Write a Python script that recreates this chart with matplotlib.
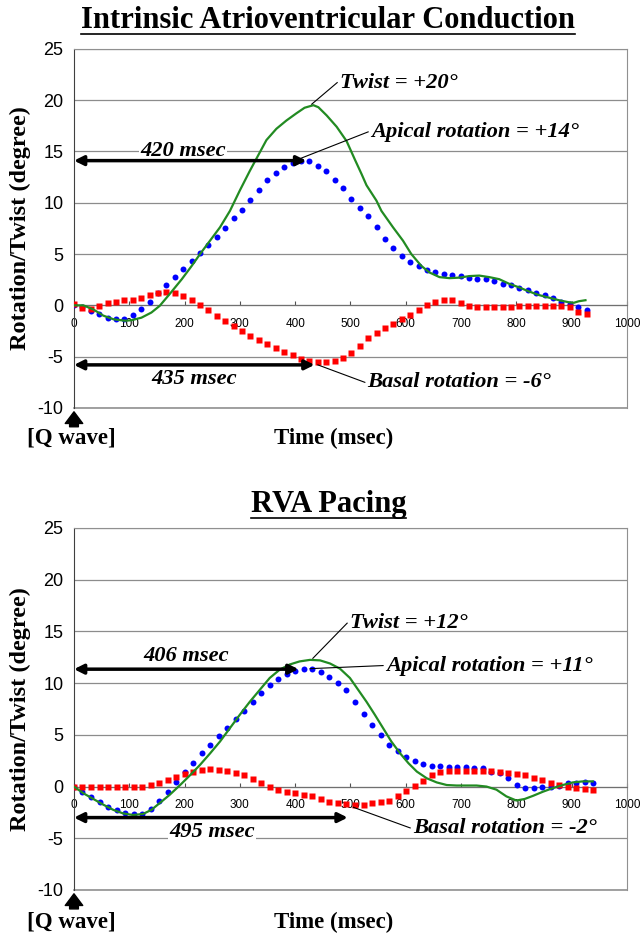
import matplotlib
matplotlib.use("Agg")
import matplotlib.pyplot as plt
import numpy as np
from matplotlib.lines import Line2D

plt.rcParams["axes.unicode_minus"] = False
SERIF = "Liberation Serif"
SANS = "Liberation Sans"

# ---- Intrinsic AV conduction ----
t_dots_av = np.arange(62) * 15.2
apical_av = [0, -0.2, -0.55, -0.8, -1.2, -1.3, -1.3, -0.9, -0.4, 0.3,
             1.2, 2.0, 2.8, 3.5, 4.3, 5.1, 5.9, 6.7, 7.5, 8.5,
             9.3, 10.3, 11.2, 12.2, 12.9, 13.5, 13.9, 14.1, 14.05, 13.6,
             13.1, 12.2, 11.4, 10.4, 9.5, 8.7, 7.6, 6.5, 5.6, 4.8,
             4.2, 3.8, 3.45, 3.25, 3.1, 3.0, 2.9, 2.7, 2.6, 2.55,
             2.4, 2.1, 1.95, 1.7, 1.45, 1.2, 1.0, 0.7, 0.35, 0.1,
             -0.2, -0.5]
basal_av = [0.1, -0.3, -0.4, -0.05, 0.25, 0.35, 0.5, 0.55, 0.75, 1.0,
            1.25, 1.3, 1.2, 0.9, 0.5, 0, -0.5, -1.0, -1.5, -2.0,
            -2.5, -3.0, -3.4, -3.8, -4.2, -4.55, -4.85, -5.2, -5.45, -5.55,
            -5.55, -5.45, -5.1, -4.6, -4.0, -3.2, -2.7, -2.2, -1.8, -1.35,
            -0.9, -0.5, 0.05, 0.35, 0.55, 0.5, 0.2, -0.05, -0.15, -0.15,
            -0.15, -0.2, -0.2, -0.1, -0.1, -0.05, -0.05, -0.05, -0.05, -0.2,
            -0.6, -0.8]
t_twist_av = [0, 17, 35, 53, 71, 92, 104, 122, 140, 155, 173, 195, 213, 228,
              246, 264, 282, 300, 318, 336, 348, 366, 384, 402, 417, 433,
              442, 457, 475, 493, 508, 520, 529, 547, 556, 577, 595, 610,
              628, 643, 661, 679, 697, 715, 733, 751, 769, 787, 805, 823,
              841, 859, 877, 895, 904, 913, 925]
twist_av = [0, 0, -0.4, -1.0, -1.35, -1.5, -1.45, -1.2, -0.7, -0.05, 1.1,
            2.55, 3.85, 5.0, 6.3, 7.6, 9.2, 11.2, 13.1, 14.9, 16.1, 17.2,
            18.0, 18.7, 19.25, 19.5, 19.3, 18.5, 17.4, 16.0, 14.2, 12.8,
            11.7, 10.2, 9.2, 7.6, 6.3, 5.0, 3.85, 3.2, 2.75, 2.65, 2.7,
            2.85, 2.9, 2.75, 2.55, 2.1, 1.75, 1.35, 1.0, 0.75, 0.5, 0.3,
            0.25, 0.4, 0.5]

# ---- RVA pacing ----
t_dots_rva = np.arange(62) * 15.4
apical_rva = [0, -0.5, -1.0, -1.5, -1.95, -2.3, -2.6, -2.7, -2.7, -2.15,
              -1.4, -0.5, 0.4, 1.45, 2.3, 3.2, 4.0, 4.9, 5.7, 6.5,
              7.35, 8.15, 9.0, 9.8, 10.4, 10.9, 11.2, 11.4, 11.35, 11.1,
              10.6, 10.0, 9.3, 8.2, 7.0, 6.0, 5.0, 4.0, 3.4, 2.85,
              2.5, 2.2, 2.0, 1.95, 1.9, 1.85, 1.85, 1.8, 1.8, 1.45,
              1.3, 0.8, 0.15, -0.1, -0.1, 0, 0, 0.1, 0.3, 0.3,
              0.4, 0.3]
basal_rva = [0, 0, 0, 0, 0, 0, 0, 0, 0, 0.15,
             0.3, 0.65, 0.95, 1.2, 1.4, 1.6, 1.7, 1.6, 1.55, 1.35,
             1.1, 0.7, 0.3, 0, -0.3, -0.5, -0.65, -0.8, -0.95, -1.2,
             -1.45, -1.6, -1.7, -1.8, -1.8, -1.6, -1.5, -1.35, -0.95, -0.4,
             0.05, 0.55, 1.1, 1.45, 1.55, 1.55, 1.55, 1.55, 1.55, 1.55,
             1.45, 1.35, 1.2, 1.1, 0.8, 0.6, 0.3, 0.15, 0, -0.15,
             -0.25, -0.3]
t_twist_rva = [0, 17, 35, 53, 71, 89, 107, 125, 140, 155, 173, 192, 210, 228,
               246, 264, 282, 300, 318, 336, 354, 372, 390, 408, 427, 445,
               463, 481, 499, 514, 529, 544, 559, 574, 590, 605, 620, 638,
               656, 674, 692, 710, 728, 746, 764, 782, 800, 815, 830, 848,
               866, 884, 902, 920, 938]
twist_rva = [0, -0.65, -1.2, -1.75, -2.25, -2.6, -2.75, -2.65, -2.25, -1.6,
             -0.8, 0.15, 1.1, 2.1, 3.2, 4.35, 5.65, 6.95, 8.2, 9.35, 10.5,
             11.3, 11.8, 12.1, 12.25, 12.2, 11.9, 11.4, 10.5, 9.35, 8.2,
             6.95, 5.65, 4.35, 3.2, 2.25, 1.45, 0.8, 0.4, 0.15, 0.1, 0.1,
             0.1, 0, -0.3, -0.95, -1.35, -1.2, -0.9, -0.5, -0.15, 0.15, 0.4,
             0.5, 0.5]

x_ticks = list(range(0, 1001, 100))
y_ticks = list(range(-10, 26, 5))
NOTE_SIZE = 16.2


def arrow_note(ax, y, x_end, label, text_xy):
    ax.annotate("", xy=(x_end, y), xytext=(0, y),
                arrowprops=dict(arrowstyle="<|-|>", color="black", lw=2.5,
                                mutation_scale=14, shrinkA=0, shrinkB=0),
                zorder=6, annotation_clip=False)
    ax.text(text_xy[0], text_xy[1], label, ha="center", va="center",
            family=SERIF, style="italic", weight="bold", fontsize=NOTE_SIZE,
            bbox=dict(fc="white", ec="none", pad=1), zorder=5)


def leader(ax, p0, p1, label):
    ax.plot([p0[0], p1[0]], [p0[1], p1[1]], color="black", lw=0.8, zorder=6)
    ax.text(p1[0] + 5, p1[1], label, ha="left", va="center", family=SERIF,
            style="italic", weight="bold", fontsize=NOTE_SIZE, zorder=6)


def panel(ax, t_dots, apical, basal, t_twist, twist):
    ax.set_xlim(0, 1000)
    ax.set_ylim(-10, 25)
    ax.plot(t_dots, apical, "o", color="#0000FF", ms=4.3, mec="none", zorder=3)
    ax.plot(t_dots, basal, "s", color="#FF0000", ms=4.4, mec="none", zorder=3)
    ax.plot(t_twist, twist, "-", color="#228B22", lw=1.6, zorder=4)

    ax.set_xticks(x_ticks)
    ax.set_yticks(y_ticks)
    ax.grid(axis="y", color="#8c8c8c", lw=0.9)
    ax.set_axisbelow(True)
    ax.spines["bottom"].set_position(("data", 0))
    ax.spines["bottom"].set_color("#707070")
    for s in ["top", "right"]:
        ax.spines[s].set_color("#909090")
    ax.spines["left"].set_color("#404040")
    ax.axhline(-10, color="#909090", lw=1.2, clip_on=False)
    ax.tick_params(axis="x", direction="in", length=3, pad=9, labelsize=8.5,
                   color="#505050")
    ax.tick_params(axis="y", length=0, pad=7.5, labelsize=13)
    for lab in ax.get_xticklabels() + ax.get_yticklabels():
        lab.set_family(SANS)
    ax.set_ylabel("Rotation/Twist (degree)", family=SERIF, weight="bold",
                  fontsize=17.5, labelpad=5)
    # Q wave arrow
    ax.annotate("", xy=(0, -10.1), xytext=(0, -12.1),
                arrowprops=dict(arrowstyle="simple,head_width=0.9,head_length=0.6,tail_width=0.45",
                                fc="black", ec="black", mutation_scale=14),
                annotation_clip=False)


fig = plt.figure(figsize=(6.4, 9.39), dpi=100)
ax1 = fig.add_axes([0.1156, 0.5655, 0.864, 0.3826])
ax2 = fig.add_axes([0.1156, 0.0522, 0.864, 0.3855])

panel(ax1, t_dots_av, apical_av, basal_av, t_twist_av, twist_av)
panel(ax2, t_dots_rva, apical_rva, basal_rva, t_twist_rva, twist_rva)

# annotations, intrinsic conduction
arrow_note(ax1, 14.1, 420, "420 msec", (197, 15.0))
arrow_note(ax1, -5.8, 435, "435 msec", (217, -7.2))
leader(ax1, (430, 19.6), (476, 21.7), "Twist = +20°")
leader(ax1, (409, 14.3), (532, 16.9), "Apical rotation = +14°")
leader(ax1, (441, -5.8), (526, -7.5), "Basal rotation = -6°")

# annotations, RVA pacing
arrow_note(ax2, 11.35, 406, "406 msec", (202, 12.6))
arrow_note(ax2, -3.0, 495, "495 msec", (250, -4.4))
leader(ax2, (432, 12.4), (494, 15.8), "Twist = +12°")
leader(ax2, (427, 11.4), (559, 11.7), "Apical rotation = +11°")
leader(ax2, (505, -2.0), (608, -4.0), "Basal rotation = -2°")

titles = []
for y_title, y_lab, title in [(0.9787, 0.5335, "Intrinsic Atrioventricular Conduction"),
                              (0.4622, 0.0181, "RVA Pacing")]:
    titles.append(fig.text(0.513, y_title, title, ha="center", va="center",
                           family=SERIF, weight="bold", fontsize=22))
    fig.text(0.522, y_lab, "Time (msec)", ha="center", va="center",
             family=SERIF, weight="bold", fontsize=16.5)
    fig.text(0.111, y_lab, "[Q wave]", ha="center", va="center",
             family=SERIF, weight="bold", fontsize=16.5)

# underline the titles
fig.canvas.draw()
inv = fig.transFigure.inverted()
for t in titles:
    bb = t.get_window_extent()
    (x0, y0), (x1, _) = inv.transform([(bb.x0, bb.y0 + 1), (bb.x1, bb.y1)])
    fig.add_artist(Line2D([x0, x1], [y0, y0], color="black", lw=1.2,
                          transform=fig.transFigure))

fig.savefig("out.png", dpi=100)
